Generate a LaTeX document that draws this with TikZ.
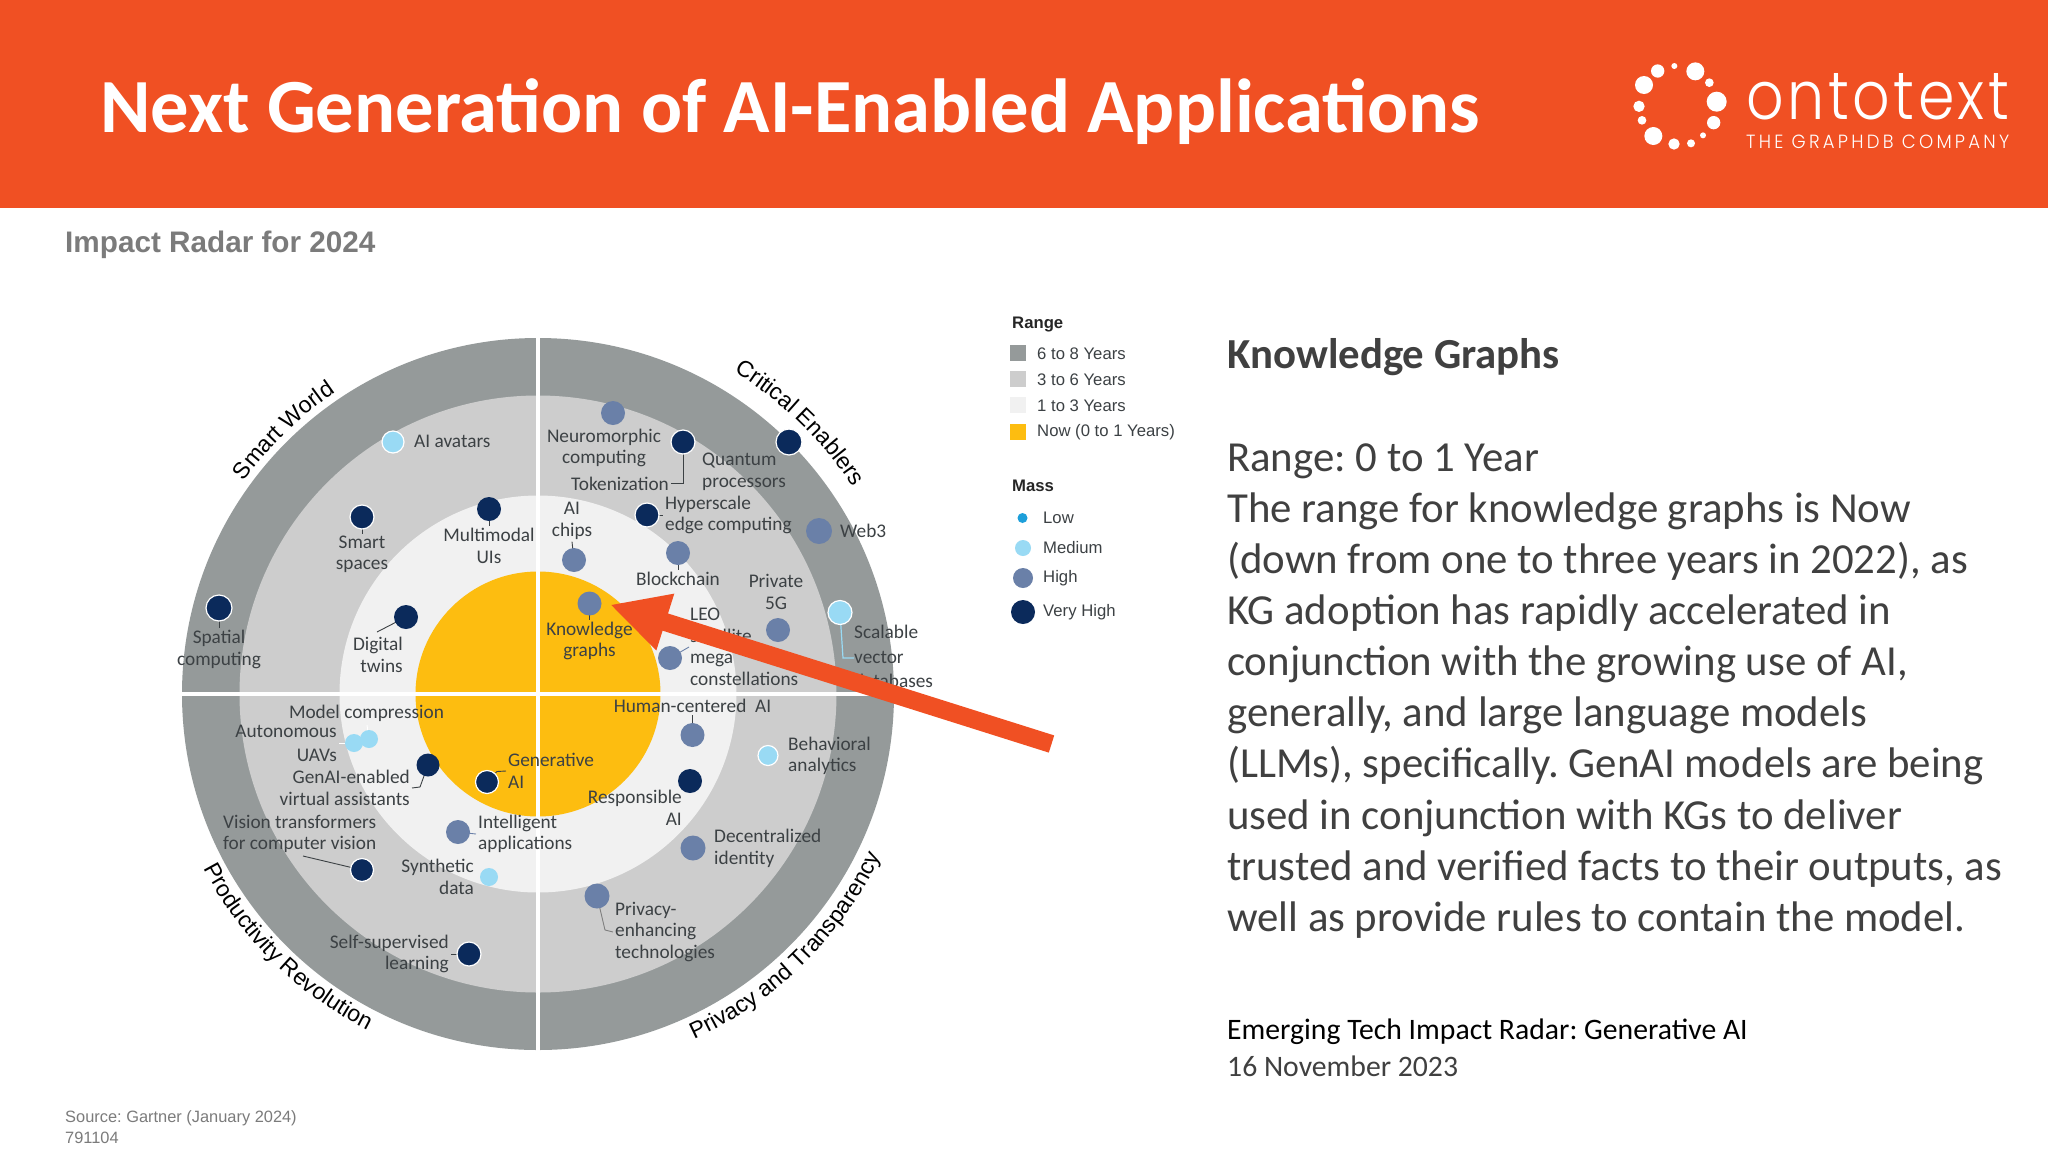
\documentclass[tikz,border=0pt]{standalone}
\usepackage{fontspec}
\usepackage{graphicx}
\usetikzlibrary{arrows.meta,decorations.text}
\setmainfont{Carlito}
\newfontfamily\arialf{Liberation Sans}
\newfontfamily\logofont{Poppins}[UprightFont=* Light,LetterSpace=6]
\newfontfamily\logotag{Poppins}[UprightFont=* Light,LetterSpace=18]
\newcommand{\fsz}[2]{\fontsize{#1}{#2}\selectfont}
\newcommand{\curvefont}{\arialf\fsz{23}{26}}
\definecolor{hdr}{HTML}{F05023}
\definecolor{ringa}{HTML}{959A9A}
\definecolor{ringb}{HTML}{CDCDCD}
\definecolor{ringc}{HTML}{F1F1F1}
\definecolor{core}{HTML}{FDBD10}
\definecolor{navy}{HTML}{0B2A5B}
\definecolor{himass}{HTML}{6A80A8}
\definecolor{medmass}{HTML}{99DAF4}
\definecolor{lowmass}{HTML}{1D9FDA}
\definecolor{ink}{HTML}{3C4144}
\definecolor{bodyink}{HTML}{404040}
\definecolor{grayhead}{HTML}{7B7B7B}
\pgfdeclarelayer{rings}
\pgfdeclarelayer{leaders}
\pgfdeclarelayer{topmost}
\pgfsetlayers{rings,leaders,main,topmost}
\tikzset{
  lbl/.style={font=\fsz{19.3}{21.5},text=ink,inner sep=2pt,align=center,yshift=-1pt},
  lblw/.style={lbl,align=left,anchor=west},
  lble/.style={lbl,align=right,anchor=east},
  dotb/.style={circle,inner sep=0pt,minimum size=#1},
  vh/.style={dotb=#1,fill=navy},
  hi/.style={dotb=#1,fill=himass},
  med/.style={dotb=#1,fill=medmass},
  wring/.style={draw=white,line width=1.2pt},
  leader/.style={draw=ink,line width=0.9pt},
  bodyline/.style={font=\fsz{42.8}{51},text=bodyink,inner sep=0pt,anchor=base west},
  legtxt/.style={font=\arialf\fsz{16.7}{19},text=ink,inner sep=0pt,anchor=west},
  leghead/.style={font=\arialf\bfseries\fsz{16.7}{19},text=black!85,inner sep=0pt,anchor=west},
  legsq/.style={minimum size=16pt,inner sep=0pt},
  logodot/.style={circle,fill=white,inner sep=0pt,minimum size=#1},
  curve/.style={decorate,decoration={text along path,text align=center,text={|\curvefont|#1}}}
}
\begin{document}
\frenchspacing
\begin{tikzpicture}[x=1pt,y=1pt]
\useasboundingbox (0,-1152) rectangle (2048,0);
\coordinate (c) at (538,-694);
\begin{pgfonlayer}{rings}
\fill[white] (0,-1152) rectangle (2048,0);
\fill[hdr] (0,-208) rectangle (2048,0);
\fill[ringa] (c) circle[radius=356];
\fill[ringb] (c) circle[radius=298.5];
\fill[ringc] (c) circle[radius=198.5];
\fill[core] (c) circle[radius=122.5];
\draw[white,line width=4.5pt] (538,-335) -- (538,-1053);
\draw[white,line width=3.8pt] (180,-694) -- (896,-694);
\end{pgfonlayer}

% header
\node[font=\bfseries\fsz{76.6}{84},text=white,inner sep=0pt,anchor=base west] (title) at (100,-132) {Next Generation of AI-Enabled Applications};
% logo
\foreach \n/\X/\Y/\R in {a/132/165/27,b/173/123/20,d/223/108/9,e/286/124/27,f/328/158/13,g/350/215/30,h/341/278/20,i/309/316/9,j/273/340/12,k/222/342/17,l/160/318/27,m/126/271/13,n/117/229/17}
  \node[logodot={2*\R/3}] (logo\n) at ({1600+\X/3},{-30-\Y/3}) {};
\node[text=white,inner sep=0pt,anchor=base west] (logoword) at (1746,-119) {\resizebox{263pt}{46pt}{\logofont ontotext}};
\node[text=white,inner sep=0pt,anchor=base west] (logotag) at (1746,-148) {\resizebox{263pt}{13.5pt}{\logotag THE GRAPHDB COMPANY}};

\node[font=\arialf\bfseries\fsz{29.7}{33},text=grayhead,inner sep=0pt,anchor=west] (impact) at (65,-244.5) {Impact Radar for 2024};
\node[font=\arialf\fsz{16.4}{20},text=grayhead,inner sep=0pt,anchor=west] (source) at (65,-1118) {Source: Gartner (January 2024)};
\node[font=\arialf\fsz{16.4}{20},text=grayhead,inner sep=0pt,anchor=west] (srcnum) at (65,-1138) {791104};

% curved labels
\path[curve={Smart World}] ([shift={(170:363)}]c) arc[start angle=170,end angle=98,radius=363];
\path[curve={Critical Enablers}] ([shift={(82:377)}]c) arc[start angle=82,end angle=10,radius=377];
\path[curve={Productivity Revolution}] ([shift={(185.3:377)}]c) arc[start angle=185.3,end angle=265.3,radius=377];
\path[curve={Privacy and Transparency}] ([shift={(-90:379)}]c) arc[start angle=-90,end angle=-1,radius=379];

% dots
\node[med=22pt,wring] (dava) at (393,-442) {};
\node[vh=24pt,wring] (dsma) at (362,-517) {};
\node[vh=24pt] (dmul) at (489,-509) {};
\node[vh=26pt,wring] (dspa) at (219,-608) {};
\node[vh=24pt] (ddig) at (406,-617) {};
\node[hi=24pt] (dneu) at (613,-413) {};
\node[vh=24pt,wring] (dtok) at (683,-442) {};
\node[vh=26pt,wring] (dqua) at (789,-442) {};
\node[vh=24pt,wring] (dhyp) at (647,-515) {};
\node[hi=26pt] (dweb) at (819,-531) {};
\node[hi=24pt] (dchi) at (574,-560) {};
\node[hi=24pt] (dblo) at (678,-553) {};
\node[hi=24pt] (dkno) at (589.5,-603.5) {};
\node[hi=24pt] (dpri) at (778,-630) {};
\node[hi=24pt] (dleo) at (670,-658) {};
\node[med=24pt,wring] (dsca) at (840,-612.5) {};
\node[hi=24pt] (dhum) at (692.5,-735) {};
\node[med=20pt,wring] (dbeh) at (768,-755.5) {};
\node[med=18pt] (daut) at (354,-743) {};
\node[med=18pt] (dmod) at (369,-739) {};
\node[vh=23pt] (dgai) at (428,-765) {};
\node[vh=23pt,wring] (dgen) at (487,-782) {};
\node[hi=24pt] (dint) at (458,-832) {};
\node[vh=23pt,wring] (dvis) at (362,-870) {};
\node[med=18pt] (dsyn) at (489,-877) {};
\node[vh=24pt,wring] (dsel) at (469,-954) {};
\node[vh=24pt] (dres) at (690,-781) {};
\node[hi=25pt] (ddec) at (693,-848) {};
\node[hi=25pt] (dprv) at (597,-896) {};

% labels
\node[lblw] (lava) at (412,-440.5) {AI avatars};
\node[lbl] (lsma) at (362,-553.5) {Smart\\spaces};
\node[lbl] (lmul) at (489,-545) {Multimodal\\UIs};
\node[lbl] (lspa) at (219,-648.5) {Spatial\\computing};
\node[lble] (ldig) at (405,-654) {Digital\\twins};
\node[lbl] (lneu) at (604,-447) {Neuromorphic\\computing};
\node[lbl] (ltok) at (620,-482.5) {Tokenization};
\node[lblw] (lqua) at (700,-471) {Quantum\\processors};
\node[lbl] (lchi) at (572,-520) {AI\\chips};
\node[lblw] (lhyp) at (663,-514) {Hyperscale\\edge computing};
\node[lblw] (lweb) at (838,-530) {Web3};
\node[lbl] (lblo) at (678,-577.5) {Blockchain};
\node[lbl] (lpri) at (776,-591) {Private\\5G};
\node[lblw] (lleo) at (688,-646) {LEO\\satellite\\mega\\constellations};
\node[lbl] (lkno) at (589.5,-640) {Knowledge\\graphs};
\node[lblw,font=\fsz{19.3}{24.5}] (lsca) at (852,-655.5) {Scalable\\vector\\databases};
\node[lbl] (lhum) at (692.5,-705) {Human-centered\ \ AI};
\node[lble,font=\fsz{19.3}{24}] (laut) at (339,-742) {Autonomous\\UAVs};
\node[lbl] (lmod) at (366.5,-712) {Model compression};
\node[lble] (lgai) at (412,-787) {GenAI-enabled\\virtual assistants};
\node[lblw] (lgen) at (506,-770) {Generative\\AI};
\node[lblw] (lint) at (476,-833) {Intelligent\\applications};
\node[lblw] (lvis) at (221,-833) {Vision transformers\\for computer vision};
\node[lble] (lsyn) at (476,-876) {Synthetic\\data};
\node[lble] (lsel) at (451,-953) {Self-supervised\\learning};
\node[lblw] (lbeh) at (786,-755) {Behavioral\\analytics};
\node[lble] (lres) at (684,-807) {Responsible\\AI};
\node[lblw] (ldec) at (712,-847.5) {Decentralized\\identity};
\node[lblw] (lprv) at (613,-931) {Privacy-\\enhancing\\technologies};

% leaders
\begin{pgfonlayer}{leaders}
\draw[leader] (dspa.center) -- (lspa.north);
\draw[leader] (dsma.center) -- (lsma.north);
\draw[leader] (dmul.center) -- (lmul.north);
\draw[leader] (ddig.center) -- (377,-632);
\draw[leader] (dtok.center) |- (ltok.east);
\draw[leader] (dhyp.center) -- (lhyp.west |- dhyp.center);
\draw[leader] (dchi.center) -- (lchi.south);
\draw[leader] (dblo.center) -- (lblo.north);
\draw[leader] (dkno.center) -- (lkno.north);
\draw[leader,draw=himass] (dleo.center) -- (689,-647);
\draw[leader,draw=medmass,line width=1.2pt] (dsca.center) -- (843,-658) -- (854,-658);
\draw[leader] (dhum.center) -- (lhum.south);
\draw[leader,draw=white] (dmod.center) -- (367,-725);
\draw[leader,draw=white] (daut.center) -- (laut.east);
\draw[leader] (dgai.center) -- (420,-787) -- (lgai.east);
\draw[leader] (dgen.center) -- (497,-771.5) -- (lgen.west);
\draw[leader,draw=himass] (dint.center) -- (lint.west);
\draw[leader] (dvis.center) -- (303,-856);
\draw[leader] (dsel.center) -- (lsel.east);
\draw[leader,draw=gray] (dprv.center) -- (605,-930) -- (lprv.west);
\end{pgfonlayer}

% legend
\node[leghead] (lrange) at (1012,-324.5) {Range};
\node[legsq,fill=ringa] (sq1) at (1018,-353) {};
\node[legsq,fill=ringb] (sq2) at (1018,-379) {};
\node[legsq,fill=ringc] (sq3) at (1018,-405) {};
\node[legsq,fill=core] (sq4) at (1018,-432) {};
\node[legtxt] (lt1) at (1037,-353.5) {6 to 8 Years};
\node[legtxt] (lt2) at (1037,-379.5) {3 to 6 Years};
\node[legtxt] (lt3) at (1037,-405.5) {1 to 3 Years};
\node[legtxt] (lt4) at (1037,-432) {Now (0 to 1 Years)};
\node[leghead] (lmass) at (1012,-486) {Mass};
\node[dotb=10pt,fill=lowmass] (ml) at (1022.5,-518) {};
\node[med=16pt] (mm) at (1023,-548) {};
\node[hi=20pt] (mh) at (1023,-578) {};
\node[vh=24pt] (mv) at (1023,-612) {};
\node[legtxt] (mlt) at (1043,-517.5) {Low};
\node[legtxt] (mmt) at (1043,-547.5) {Medium};
\node[legtxt] (mht) at (1043,-578) {High};
\node[legtxt] (mvt) at (1043,-612) {Very High};

% right text
\node[bodyline,font=\bfseries\fsz{42.8}{51}] (khead) at (1227,-368) {Knowledge Graphs};
\node[bodyline] (b1) at (1227,-471) {Range: 0 to 1 Year};
\node[bodyline] (b2) at (1227,-522) {The range for knowledge graphs is Now};
\node[bodyline] (b3) at (1227,-573) {(down from one to three years in 2022), as};
\node[bodyline] (b4) at (1227,-624) {KG adoption has rapidly accelerated in};
\node[bodyline] (b5) at (1227,-675) {conjunction with the growing use of AI,};
\node[bodyline] (b6) at (1227,-726) {generally, and large language models};
\node[bodyline] (b7) at (1227,-777.5) {(LLMs), specifically. GenAI models are being};
\node[bodyline] (b8) at (1227,-829) {used in conjunction with KGs to deliver};
\node[bodyline] (b9) at (1227,-880) {trusted and verified facts to their outputs, as};
\node[bodyline] (b10) at (1227,-931) {well as provide rules to contain the model.};
\node[bodyline,font=\fsz{29.7}{34},text=black] (src1) at (1227,-1039) {Emerging Tech Impact Radar: Generative AI};
\node[bodyline,font=\fsz{29.7}{34}] (src2) at (1227,-1076) {16 November 2023};

% big arrow
\coordinate (tailpt) at (1051.5,-744);
\coordinate (tippt) at (610,-604.6);
\begin{pgfonlayer}{topmost}
\draw[hdr,line width=18pt,-{Triangle[length=58pt,width=55pt]}] (tailpt) -- (tippt);
\end{pgfonlayer}
\end{tikzpicture}
\end{document}
